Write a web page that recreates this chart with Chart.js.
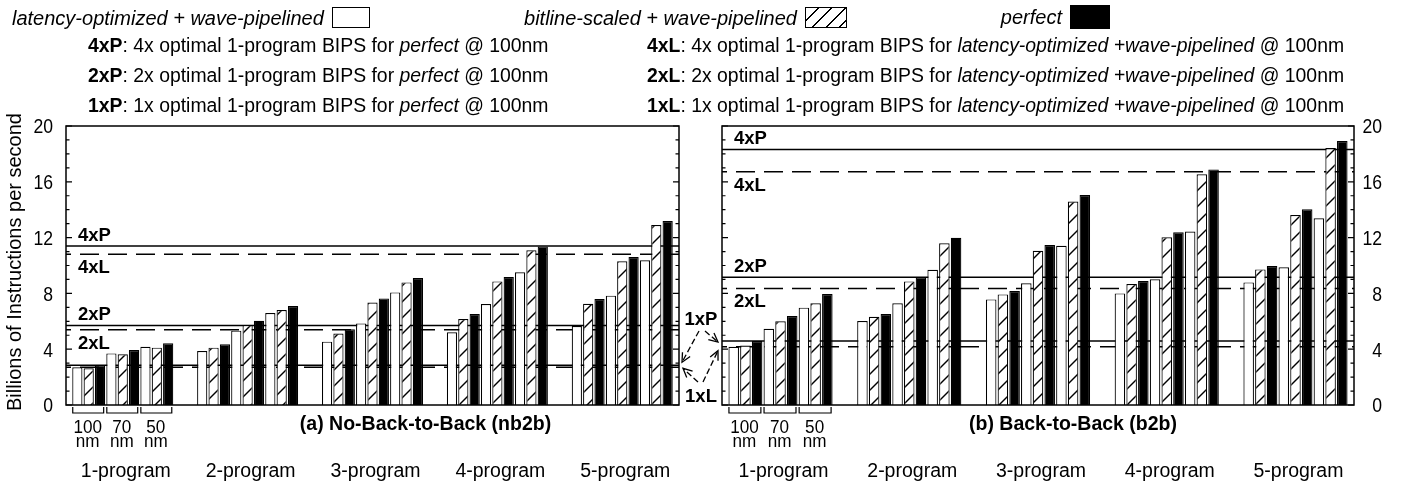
<!DOCTYPE html>
<html>
<head>
<meta charset="utf-8">
<script src="https://cdn.jsdelivr.net/npm/chart.js@4.4.1/dist/chart.umd.min.js"></script>
<style>
  html, body { margin: 0; padding: 0; background: #fff; }
  #wrap { position: relative; width: 1401px; height: 485px; overflow: hidden;
          font-family: "Liberation Sans", Arial, sans-serif; color: #000; }
  canvas { position: absolute; top: 0; }
  .h { position: absolute; white-space: nowrap; font-size: 19.4px; line-height: 1;
       display: flex; align-items: center; }
  .r1 { font-size: 20px; }
  .box { display: inline-block; border: 1.5px solid #000; box-sizing: border-box; margin-left: 8px; }
  .hatch { background: repeating-linear-gradient(135deg, #fff 0 8px, #000 8px 9.5px); }
</style>
</head>
<body>
<div id="wrap">
  <canvas id="nb2b" width="730" height="485" style="left:0;width:730px;height:485px"></canvas>
  <canvas id="b2b" width="701" height="485" style="left:700px;width:701px;height:485px"></canvas>

  <div class="h r1" style="left:12px;top:7px"><i>latency-optimized + wave-pipelined</i><span class="box" style="width:38px;height:21px"></span></div>
  <div class="h r1" style="right:554px;top:7px"><i>bitline-scaled + wave-pipelined</i><span class="box hatch" style="width:42px;height:21px"></span></div>
  <div class="h r1" style="right:291px;top:5px"><i>perfect</i><span class="box" style="width:40px;height:24px;background:#000"></span></div>

  <div class="h" style="left:88px;top:36px"><b>4xP</b>: 4x optimal 1-program BIPS for&nbsp;<i>perfect</i>&nbsp;@ 100nm</div>
  <div class="h" style="left:88px;top:66px"><b>2xP</b>: 2x optimal 1-program BIPS for&nbsp;<i>perfect</i>&nbsp;@ 100nm</div>
  <div class="h" style="left:88px;top:96px"><b>1xP</b>: 1x optimal 1-program BIPS for&nbsp;<i>perfect</i>&nbsp;@ 100nm</div>
  <div class="h" style="left:647px;top:36px"><b>4xL</b>: 4x optimal 1-program BIPS for&nbsp;<i>latency-optimized +wave-pipelined</i>&nbsp;@ 100nm</div>
  <div class="h" style="left:647px;top:66px"><b>2xL</b>: 2x optimal 1-program BIPS for&nbsp;<i>latency-optimized +wave-pipelined</i>&nbsp;@ 100nm</div>
  <div class="h" style="left:647px;top:96px"><b>1xL</b>: 1x optimal 1-program BIPS for&nbsp;<i>latency-optimized +wave-pipelined</i>&nbsp;@ 100nm</div>
</div>

<script>
// --- data (BIPS), [program][technology node] ---
const programs = ['1-program', '2-program', '3-program', '4-program', '5-program'];
const nodes = ['100', '70', '50'];
const seriesNames = ['latency-optimized + wave-pipelined', 'bitline-scaled + wave-pipelined', 'perfect'];
const yTicks = [0, 4, 8, 12, 16, 20];
const multiples = [1, 2, 4];

const nb2bLatency = [[2.70, 3.70, 4.18], [3.87, 5.33, 6.59], [4.54, 5.85, 8.07], [5.21, 7.24, 9.51], [5.66, 7.84, 10.37]];
const nb2bBitline = [[2.63, 3.63, 4.11], [4.11, 5.73, 6.81], [5.12, 7.34, 8.79], [6.16, 8.86, 11.09], [7.26, 10.30, 12.90]];
const nb2bPerfect = [[2.85, 3.94, 4.42], [4.35, 6.04, 7.10], [5.43, 7.64, 9.10], [6.52, 9.17, 11.37], [7.60, 10.61, 13.19]];

const b2bLatency = [[4.18, 5.47, 6.98], [6.02, 7.29, 9.70], [7.57, 8.72, 11.42], [8.00, 9.01, 12.43], [8.79, 9.87, 13.38]];
const b2bBitline = [[4.27, 6.00, 7.29], [6.33, 8.86, 11.59], [7.93, 11.06, 14.58], [8.67, 12.02, 16.54], [9.72, 13.62, 18.42]];
const b2bPerfect = [[4.58, 6.38, 7.96], [6.52, 9.15, 11.99], [8.17, 11.47, 15.05], [8.89, 12.38, 16.89], [9.96, 14.03, 18.92]];

const FONT = '"Liberation Sans", Arial, sans-serif';

// one slot per bar, two empty slots between programs, one empty slot at each end
const slotLabels = [''];
programs.forEach((p, g) => {
  if (g > 0) slotLabels.push('', '');
  nodes.forEach(n => seriesNames.forEach(s => slotLabels.push(`${p} ${n}nm ${s}`)));
});
slotLabels.push('');

const slotIndex = (g, k, d) => 1 + 11 * g + 3 * k + d;

const slotData = (series, d) => {
  const arr = new Array(slotLabels.length).fill(null);
  series.forEach((row, g) => row.forEach((v, k) => { arr[slotIndex(g, k, d)] = v; }));
  return arr;
};

const makeHatch = () => {
  const c = document.createElement('canvas');
  const w = 16, h = 16;
  c.width = w; c.height = h;
  const g = c.getContext('2d');
  g.fillStyle = '#fff';
  g.fillRect(0, 0, w, h);
  g.strokeStyle = '#000';
  g.lineWidth = 1.4;
  for (let k = -1; k <= 1; k++) {
    g.beginPath();
    g.moveTo(-w + k * w, 2 * h);
    g.lineTo(2 * w + k * w, -h);
    g.stroke();
  }
  return g.createPattern(c, 'repeat');
};
const hatch = makeHatch();

const drawText = (ctx, s, x, y, font, align = 'left', sx = 1) => {
  ctx.save();
  ctx.font = font;
  ctx.textAlign = align;
  ctx.textBaseline = 'alphabetic';
  ctx.fillStyle = '#000';
  ctx.translate(x, y);
  ctx.scale(sx, 1);
  ctx.fillText(s, 0, 0);
  ctx.restore();
};

const arrow = (ctx, x1, y1, x2, y2) => {
  ctx.save();
  ctx.strokeStyle = '#000';
  ctx.lineWidth = 1.3;
  ctx.setLineDash([6, 3]);
  ctx.beginPath(); ctx.moveTo(x1, y1); ctx.lineTo(x2, y2); ctx.stroke();
  ctx.setLineDash([]);
  const a = Math.atan2(y2 - y1, x2 - x1);
  ctx.beginPath();
  ctx.moveTo(x2 - 10 * Math.cos(a - 0.45), y2 - 10 * Math.sin(a - 0.45));
  ctx.lineTo(x2, y2);
  ctx.lineTo(x2 - 10 * Math.cos(a + 0.45), y2 - 10 * Math.sin(a + 0.45));
  ctx.stroke();
  ctx.restore();
};

// --- plugin: frame, inward ticks, reference lines and all the labels ---
const panelDeco = (cfg) => ({
  id: 'panelDeco',
  beforeDatasetsDraw(chart) {
    const { ctx, chartArea: a, scales: { y } } = chart;
    ctx.save();
    ctx.beginPath();
    ctx.rect(a.left, a.top, a.right - a.left, a.bottom - a.top);
    ctx.clip();
    ctx.strokeStyle = '#000';
    ctx.lineWidth = 1.5;
    cfg.refLines.forEach(r => {
      const py = y.getPixelForValue(r.value);
      ctx.setLineDash(r.dashed ? [19, 9] : []);
      ctx.lineDashOffset = 14;
      ctx.beginPath(); ctx.moveTo(a.left, py); ctx.lineTo(a.right, py); ctx.stroke();
    });
    ctx.restore();
  },
  afterDraw(chart) {
    const { ctx, chartArea: a, scales: { x, y } } = chart;
    ctx.save();
    ctx.strokeStyle = '#000';
    ctx.lineWidth = 1.5;
    ctx.strokeRect(a.left, a.top, a.right - a.left, a.bottom - a.top);

    // inward ticks on both borders
    ctx.lineWidth = 1.2;
    for (let v = 0; v <= 20; v++) {
      const py = y.getPixelForValue(v);
      const len = v % 4 === 0 ? 6 : 3.5;
      ctx.beginPath();
      ctx.moveTo(a.left, py); ctx.lineTo(a.left + len, py);
      ctx.moveTo(a.right, py); ctx.lineTo(a.right - len, py);
      ctx.stroke();
    }
    yTicks.forEach(v => {
      const py = y.getPixelForValue(v) + 7.3;
      if (cfg.side === 'left') drawText(ctx, String(v), a.left - 13, py, `20px ${FONT}`, 'right', 0.88);
      else drawText(ctx, String(v), a.right + 28, py, `20px ${FONT}`, 'right', 0.88);
    });

    // 2x / 4x labels inside the plot
    cfg.refLines.filter(r => r.label).forEach(r => {
      const py = y.getPixelForValue(r.value);
      const by = r.dashed ? py + 19 : py - 5;
      drawText(ctx, r.name, a.left + 12, by, `bold 18.5px ${FONT}`);
    });

    // brackets and node labels under the 1-program group
    const metas = [0, 1, 2].map(i => chart.getDatasetMeta(i));
    nodes.forEach((n, k) => {
      const first = metas[0].data[slotIndex(0, k, 0)];
      const last = metas[2].data[slotIndex(0, k, 2)];
      const x0 = first.x - first.width / 2 + 0.5;
      const x1 = last.x + last.width / 2 - 1.5;
      ctx.lineWidth = 1.2;
      ctx.beginPath();
      ctx.moveTo(x0, a.bottom + 2); ctx.lineTo(x0, a.bottom + 8);
      ctx.lineTo(x1, a.bottom + 8); ctx.lineTo(x1, a.bottom + 2);
      ctx.stroke();
      const cx = x.getPixelForValue(slotIndex(0, k, 1));
      drawText(ctx, n, cx - 1, a.bottom + 28, `18px ${FONT}`, 'center', 0.95);
      drawText(ctx, 'nm', cx - 1, a.bottom + 42, `18px ${FONT}`, 'center', 0.95);
    });

    programs.forEach((p, g) => {
      const cx = x.getPixelForValue(slotIndex(g, 1, 1));
      drawText(ctx, p, cx + 3, 477, `19.5px ${FONT}`, 'center');
    });
    drawText(ctx, cfg.title, (a.left + a.right) / 2 + cfg.titleDx, cfg.titleY, `bold 19.5px ${FONT}`, 'center');

    if (cfg.side === 'left') {
      ctx.save();
      ctx.translate(21, 262);
      ctx.rotate(-Math.PI / 2);
      ctx.font = `20px ${FONT}`;
      ctx.textAlign = 'center';
      ctx.fillStyle = '#000';
      ctx.fillText('Billions of Instructions per second', 0, 0);
      ctx.restore();

      // 1x annotations sitting between the two panels
      const yP = y.getPixelForValue(nb2bPerfect[0][0]);
      const yL = y.getPixelForValue(nb2bLatency[0][0]);
      const yP2 = y.getPixelForValue(b2bPerfect[0][0]);
      const yL2 = y.getPixelForValue(b2bLatency[0][0]);
      drawText(ctx, '1xP', 701, 325, `bold 18.5px ${FONT}`, 'center');
      drawText(ctx, '1xL', 701, 402, `bold 18.5px ${FONT}`, 'center');
      arrow(ctx, 699, 331, a.right + 3, yP - 3);
      arrow(ctx, 705, 331, 718, yP2 + 1);
      arrow(ctx, 698, 382, a.right + 4, yL + 1);
      arrow(ctx, 703, 382, 718, yL2 + 4);
    }
    ctx.restore();
  }
});

const makePanel = (id, cfg) => {
  cfg.refLines = multiples.flatMap(m => [
    { name: m + 'xP', value: m * cfg.perfect[0][0], dashed: false, label: m > 1 },
    { name: m + 'xL', value: m * cfg.latency[0][0], dashed: true, label: m > 1 }
  ]);
  const bar = { borderColor: '#000', borderWidth: 1.2, borderSkipped: 'start' };
  return new Chart(document.getElementById(id), {
    type: 'bar',
    data: {
      labels: slotLabels,
      datasets: [
        { label: seriesNames[0], data: slotData(cfg.latency, 0), backgroundColor: '#fff', ...bar },
        { label: seriesNames[1], data: slotData(cfg.bitline, 1), backgroundColor: hatch, ...bar },
        { label: seriesNames[2], data: slotData(cfg.perfect, 2), backgroundColor: '#000', ...bar }
      ]
    },
    options: {
      responsive: false,
      animation: false,
      layout: { padding: cfg.padding },
      datasets: { bar: { grouped: false, barPercentage: 0.9, categoryPercentage: 1 } },
      plugins: { legend: { display: false }, tooltip: { enabled: false } },
      scales: {
        x: {
          offset: false,
          grid: { display: false },
          border: { display: false },
          ticks: { display: false },
          afterFit: s => { s.height = 80; }
        },
        y: {
          position: cfg.side,
          min: 0, max: 20,
          grid: { display: false },
          border: { display: false },
          ticks: { display: false, stepSize: 4 },
          afterFit: s => { s.width = cfg.axisWidth; }
        }
      }
    },
    plugins: [panelDeco(cfg)]
  });
};

makePanel('nb2b', {
  side: 'left', axisWidth: 66, padding: { top: 126, right: 51, left: 0, bottom: 0 },
  title: '(a) No-Back-to-Back (nb2b)', titleDx: 53, titleY: 430,
  latency: nb2bLatency, bitline: nb2bBitline, perfect: nb2bPerfect
});
makePanel('b2b', {
  side: 'right', axisWidth: 47, padding: { top: 126, right: 0, left: 22, bottom: 0 },
  title: '(b) Back-to-Back (b2b)', titleDx: 35, titleY: 430,
  latency: b2bLatency, bitline: b2bBitline, perfect: b2bPerfect
});
</script>
</body>
</html>
